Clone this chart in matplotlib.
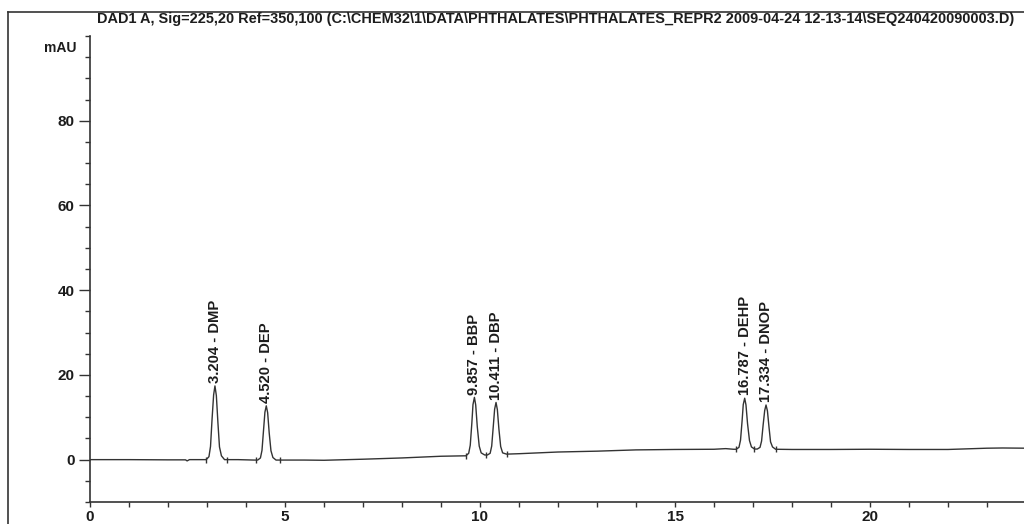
import matplotlib.pyplot as plt
from matplotlib.lines import Line2D
from matplotlib.ticker import MultipleLocator

plt.rcParams['font.family'] = ['Liberation Sans', 'DejaVu Sans']

# Chromatogram trace (time in min, signal in mAU)
trace_time = [0.0, 1.0, 2.0, 2.45, 2.49, 2.55,
              2.98, 3.05, 3.09, 3.13, 3.17, 3.204, 3.24, 3.28, 3.32, 3.37, 3.45,
              3.8, 4.2,
              4.30, 4.37, 4.41, 4.45, 4.485, 4.52, 4.555, 4.595, 4.64, 4.69, 4.77,
              5.5, 6.0, 7.0, 8.0, 9.0, 9.6,
              9.64, 9.71, 9.75, 9.79, 9.82, 9.857, 9.89, 9.93, 9.98, 10.03, 10.12,
              10.19, 10.26, 10.30, 10.34, 10.375, 10.411, 10.445, 10.485, 10.53, 10.58, 10.68,
              11.0, 12.0, 13.0, 14.0, 15.0, 16.0, 16.3, 16.5,
              16.57, 16.64, 16.68, 16.72, 16.75, 16.787, 16.82, 16.86, 16.91, 16.96, 17.04,
              17.11, 17.18, 17.22, 17.26, 17.30, 17.334, 17.37, 17.41, 17.45, 17.50, 17.58,
              18.0, 19.0, 20.0, 21.0, 22.0, 23.0, 23.4, 24.0]
trace_mau = [0.0, 0.0, -0.05, -0.05, -0.3, 0.0,
             0.0, 0.7, 3.1, 9.6, 15.3, 17.4, 15.1, 8.7, 3.0, 0.9, 0.0,
             0.0, -0.1,
             -0.1, 0.4, 2.2, 7.0, 11.2, 12.7, 11.1, 6.3, 2.1, 0.5, -0.1,
             -0.1, -0.15, 0.1, 0.4, 0.8, 0.9,
             0.9, 1.5, 3.4, 8.5, 13.0, 14.7, 12.9, 7.8, 3.2, 1.6, 1.1,
             1.1, 1.5, 3.2, 7.8, 11.9, 13.5, 11.8, 7.2, 3.1, 1.6, 1.3,
             1.4, 1.8, 2.0, 2.3, 2.4, 2.45, 2.6, 2.45,
             2.45, 2.9, 4.6, 9.1, 13.0, 14.5, 12.9, 8.5, 4.5, 3.0, 2.5,
             2.5, 2.9, 4.4, 8.2, 11.6, 12.9, 11.5, 7.7, 4.2, 3.0, 2.45,
             2.4, 2.4, 2.45, 2.4, 2.4, 2.7, 2.75, 2.7]

# Integrated peaks
peak_rt = [3.204, 4.520, 9.857, 10.411, 16.787, 17.334]
peak_top = [17.4, 12.7, 14.7, 13.5, 14.5, 12.9]
peak_name = ['DMP', 'DEP', 'BBP', 'DBP', 'DEHP', 'DNOP']

# Integration start/end marks
mark_time = [2.97, 3.51, 4.25, 4.87, 9.64, 10.15, 10.69, 16.56, 17.03, 17.58]
mark_mau = [0.0, -0.1, -0.1, -0.1, 0.9, 1.1, 1.3, 2.45, 2.5, 2.4]

title = ("DAD1 A, Sig=225,20 Ref=350,100 (C:\\CHEM32\\1\\DATA\\PHTHALATES\\"
         "PHTHALATES_REPR2 2009-04-24 12-13-14\\SEQ240420090003.D)")

ink = '#1c1c1c'
W, H = 1024, 524
fig = plt.figure(figsize=(W / 100, H / 100), dpi=100)
ax = fig.add_axes([90 / W, 1 - 502 / H, 1 - 90 / W, (502 - 36) / H])

ax.plot(trace_time, trace_mau, color='#333333', lw=1.0)
ax.plot(mark_time, mark_mau, ls='none', marker='|', ms=5, mew=1.0, color='#333333')

for rt, top, name in zip(peak_rt, peak_top, peak_name):
    ax.annotate(f"{rt:.3f} - {name}", (rt, top), xytext=(0, 2),
                textcoords='offset points', rotation=90, ha='center', va='bottom',
                fontsize=10.6, fontweight='bold', color=ink)

ax.set_xlim(0, (W - 90) / 39)
ax.set_ylim(-10, 100)
ax.xaxis.set_major_locator(MultipleLocator(5))
ax.xaxis.set_minor_locator(MultipleLocator(1))
ax.set_yticks([0, 20, 40, 60, 80])
ax.yaxis.set_minor_locator(MultipleLocator(5))

for s in ['top', 'right']:
    ax.spines[s].set_visible(False)
for s in ['left', 'bottom']:
    ax.spines[s].set_color('#333333')
    ax.spines[s].set_linewidth(1.2)

ax.tick_params(axis='x', which='both', length=3.6, width=1, color='#333333', pad=2)
ax.tick_params(axis='y', which='major', length=8, width=1, color='#333333', pad=3)
ax.tick_params(axis='y', which='minor', length=3.6, width=1, color='#333333')
for lab in ax.get_xticklabels() + ax.get_yticklabels():
    lab.set_fontsize(11)
    lab.set_fontweight('bold')
    lab.set_color(ink)

ax.text(-0.014, 0.99, 'mAU', transform=ax.transAxes, ha='right', va='top',
        fontsize=10, fontweight='bold', color=ink)

# outer frame of the printout
fig.add_artist(Line2D([8 / W, 8 / W], [0, 1 - 12 / H], color='#333333', lw=1.2))
fig.add_artist(Line2D([8 / W, 1], [1 - 12 / H, 1 - 12 / H], color='#333333', lw=1.2))
fig.text(97 / W, 1 - 19 / H, title, ha='left', va='center',
         fontsize=10.45, fontweight='bold', color=ink)

fig.savefig('out.png', dpi=100, facecolor='white')
